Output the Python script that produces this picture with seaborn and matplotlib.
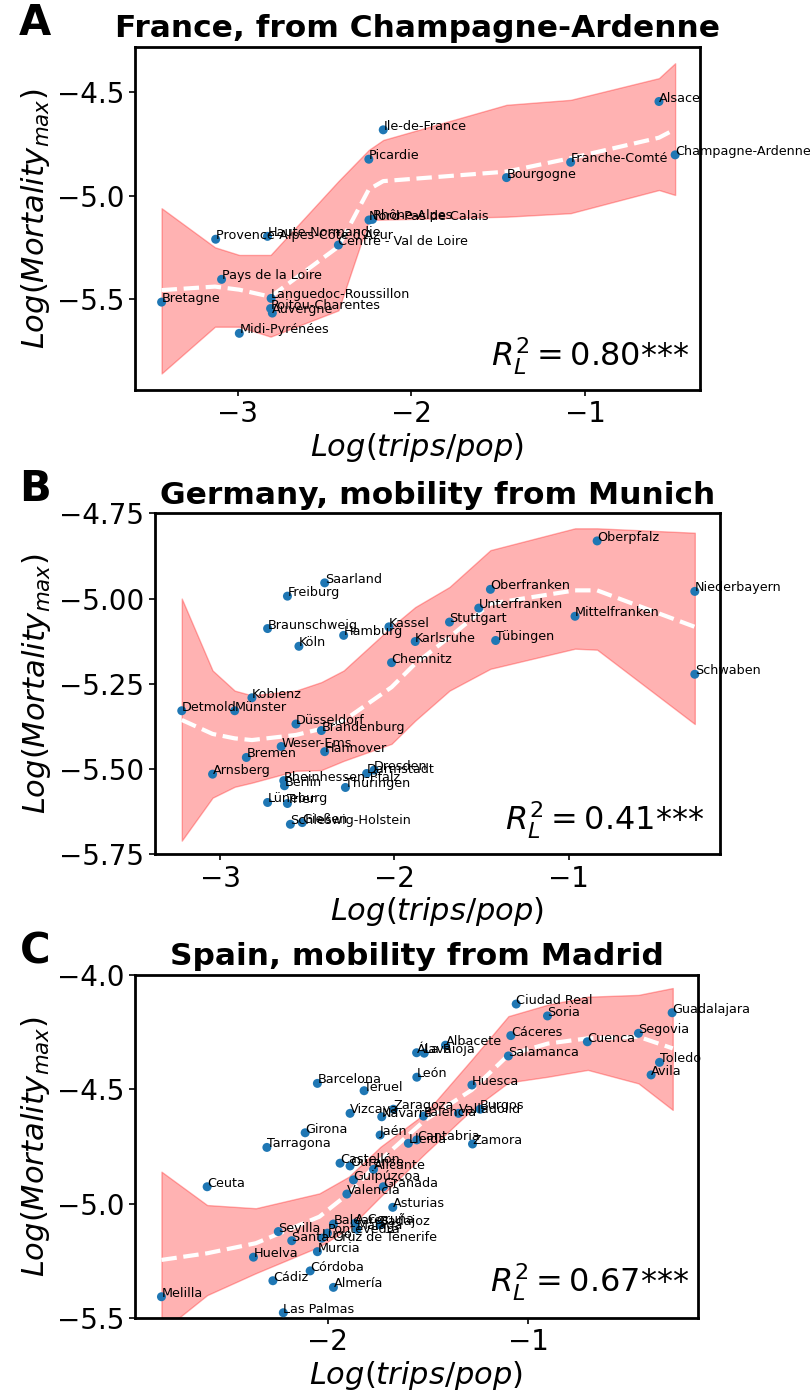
import numpy as np
import pandas as pd
import matplotlib
matplotlib.use("Agg")
import matplotlib.pyplot as plt
import seaborn as sns

# ---- France, from Champagne-Ardenne ----
fr_names = ["Alsace", "Champagne-Ardenne", "Ile-de-France", "Picardie", "Franche-Comté",
            "Bourgogne", "Nord-Pas de Calais", "Rhône-Alpes", "Provence-Alpes-Côte d'Azur",
            "Haute-Normandie", "Centre - Val de Loire", "Pays de la Loire", "Bretagne",
            "Languedoc-Roussillon", "Poitou-Charentes", "Auvergne", "Midi-Pyrénées"]
fr_x = [-0.576, -0.483, -2.162, -2.245, -1.084, -1.453, -2.244, -2.224, -3.126,
        -2.828, -2.420, -3.092, -3.437, -2.807, -2.81, -2.80, -2.99]
fr_y = [-4.545, -4.803, -4.682, -4.824, -4.839, -4.913, -5.118, -5.115, -5.211,
        -5.197, -5.239, -5.405, -5.515, -5.497, -5.546, -5.568, -5.666]
fr_fit_x = [-3.437, -3.13, -2.99, -2.81, -2.42, -2.245, -2.162, -1.453, -1.084, -0.576, -0.483]
fr_fit_y = [-5.457, -5.44, -5.455, -5.489, -5.247, -4.97, -4.93, -4.884, -4.819, -4.72, -4.679]
fr_hi = [-5.061, -5.250, -5.287, -5.287, -4.93, -4.779, -4.731, -4.561, -4.537, -4.432, -4.360]
fr_lo = [-5.860, -5.634, -5.634, -5.682, -5.555, -5.118, -5.116, -5.102, -5.085, -4.973, -4.997]

# ---- Germany, mobility from Munich ----
de_names = ["Oberpfalz", "Niederbayern", "Saarland", "Freiburg", "Oberfranken", "Unterfranken",
            "Stuttgart", "Kassel", "Hamburg", "Braunschweig", "Köln", "Karlsruhe", "Tübingen",
            "Mittelfranken", "Schwaben", "Chemnitz", "Koblenz", "Detmold", "Münster",
            "Düsseldorf", "Brandenburg", "Weser-Ems", "Hannover", "Bremen", "Arnsberg",
            "Darmstadt", "Dresden", "Rheinhessen-Pfalz", "Berlin", "Thüringen", "Lüneburg",
            "Trier", "Gießen", "Schleswig-Holstein"]
de_x = [-0.836, -0.275, -2.401, -2.615, -1.449, -1.516, -1.684, -2.032, -2.292, -2.729,
        -2.549, -1.881, -1.419, -0.963, -0.275, -2.017, -2.819, -3.222, -2.918, -2.566,
        -2.420, -2.651, -2.401, -2.851, -3.045, -2.160, -2.117, -2.636, -2.632, -2.282,
        -2.729, -2.615, -2.530, -2.598]
de_y = [-4.831, -4.979, -4.954, -4.993, -4.973, -5.028, -5.069, -5.083, -5.108, -5.088,
        -5.140, -5.126, -5.123, -5.052, -5.222, -5.188, -5.291, -5.329, -5.329, -5.368,
        -5.387, -5.434, -5.449, -5.466, -5.515, -5.513, -5.503, -5.534, -5.549, -5.554,
        -5.598, -5.601, -5.657, -5.662]
de_fit_x = [-3.222, -3.045, -2.918, -2.819, -2.566, -2.42, -2.292, -2.017, -1.881, -1.684,
            -1.449, -0.963, -0.836, -0.275]
de_fit_y = [-5.356, -5.397, -5.41, -5.415, -5.40, -5.382, -5.358, -5.260, -5.191, -5.113,
            -5.015, -4.976, -4.976, -5.083]
de_hi = [-5.0, -5.211, -5.27, -5.284, -5.27, -5.245, -5.211, -5.083, -5.025, -4.966,
         -4.858, -4.794, -4.794, -4.807]
de_lo = [-5.710, -5.584, -5.552, -5.54, -5.505, -5.503, -5.476, -5.426, -5.358, -5.270,
         -5.206, -5.147, -5.150, -5.368]

# ---- Spain, mobility from Madrid ----
es_names = ["Ciudad Real", "Soria", "Guadalajara", "Cáceres", "Segovia", "Cuenca", "Salamanca",
            "Toledo", "Avila", "Albacete", "Álava", "La Rioja", "Ceuta", "León", "Huesca",
            "Barcelona", "Teruel", "Vizcaya", "Zaragoza", "Navarra", "Palencia", "Valladolid",
            "Burgos", "Girona", "Tarragona", "Jaén", "Lleida", "Cantabria", "Zamora",
            "Castellón", "Ourense", "Alicante", "Guipúzcoa", "Granada", "Valencia", "Asturias",
            "Baleares", "A Coruña", "Badajoz", "Málaga", "Pontevedra", "Sevilla",
            "Santa Cruz de Tenerife", "Lugo", "Murcia", "Huelva", "Córdoba", "Cádiz",
            "Almería", "Las Palmas", "Melilla"]
es_x = [-1.060, -0.904, -0.282, -1.087, -0.450, -0.705, -1.099, -0.345, -0.387, -1.413,
        -1.557, -1.519, -2.602, -1.556, -1.281, -2.052, -1.819, -1.889, -1.673, -1.731,
        -1.523, -1.348, -1.240, -2.113, -2.304, -1.739, -1.598, -1.556, -1.278, -1.939,
        -1.889, -1.772, -1.872, -1.723, -1.905, -1.676, -1.972, -1.864, -1.739, -1.855,
        -2.002, -2.247, -2.180, -2.030, -2.052, -2.371, -2.088, -2.274, -1.972, -2.222,
        -2.830]
es_y = [-4.127, -4.179, -4.165, -4.265, -4.255, -4.292, -4.354, -4.382, -4.437, -4.307,
        -4.340, -4.342, -4.926, -4.447, -4.481, -4.474, -4.506, -4.605, -4.587, -4.620,
        -4.617, -4.605, -4.587, -4.690, -4.754, -4.700, -4.736, -4.721, -4.739, -4.823,
        -4.835, -4.850, -4.896, -4.926, -4.958, -5.016, -5.089, -5.086, -5.093, -5.112,
        -5.129, -5.122, -5.162, -5.151, -5.210, -5.234, -5.294, -5.337, -5.366, -5.477,
        -5.407]
es_fit_x = [-2.83, -2.602, -2.359, -2.042, -1.895, -1.737, -1.514, -1.282, -1.099, -0.903,
            -0.703, -0.45, -0.279]
es_fit_y = [-5.246, -5.217, -5.173, -5.057, -4.955, -4.809, -4.634, -4.503, -4.35, -4.30,
            -4.277, -4.27, -4.321]
es_hi = [-4.86, -5.006, -5.02, -4.955, -4.882, -4.751, -4.605, -4.37, -4.18, -4.13,
         -4.095, -4.087, -4.057]
es_lo = [-5.56, -5.40, -5.304, -5.188, -5.108, -4.969, -4.780, -4.590, -4.47, -4.445,
         -4.415, -4.474, -4.59]

panels = [
    dict(letter="A", title="France, from Champagne-Ardenne", names=fr_names, x=fr_x, y=fr_y,
         fx=fr_fit_x, fy=fr_fit_y, lo=fr_lo, hi=fr_hi, r2="0.80",
         rect=[135, 46.7, 700, 390], xlim=(-3.59, -0.34), ylim=(-5.94, -4.28),
         xticks=[-3, -2, -1], yticks=[-4.5, -5.0, -5.5], yfmt="{:.1f}", r2pos=(0.805, 0.10)),
    dict(letter="B", title="Germany, mobility from Munich", names=de_names, x=de_x, y=de_y,
         fx=de_fit_x, fy=de_fit_y, lo=de_lo, hi=de_hi, r2="0.41",
         rect=[154.6, 513.3, 720.4, 854.3], xlim=(-3.378, -0.128), ylim=(-5.75, -4.75),
         xticks=[-3, -2, -1], yticks=[-4.75, -5.0, -5.25, -5.5, -5.75], yfmt="{:.2f}",
         r2pos=(0.796, 0.10)),
    dict(letter="C", title="Spain, mobility from Madrid", names=es_names, x=es_x, y=es_y,
         fx=es_fit_x, fy=es_fit_y, lo=es_lo, hi=es_hi, r2="0.67",
         rect=[135, 975, 698, 1318], xlim=(-2.962, -0.153), ylim=(-5.5, -4.0),
         xticks=[-2, -1], yticks=[-4.0, -4.5, -5.0, -5.5], yfmt="{:.1f}", r2pos=(0.808, 0.105)),
]

sns.set_theme(style="ticks")
plt.rcParams["font.family"] = ["DejaVu Sans"]
plt.rcParams["mathtext.fontset"] = "dejavusans"
for k in ["text.color", "axes.labelcolor", "xtick.color", "ytick.color", "axes.edgecolor"]:
    plt.rcParams[k] = "black"

W, H = 810, 1395
fig = plt.figure(figsize=(W / 100, H / 100), dpi=100)

for p in panels:
    l, t, r, b = p["rect"]
    ax = fig.add_axes([l / W, 1 - b / H, (r - l) / W, (b - t) / H])
    ax.fill_between(p["fx"], p["lo"], p["hi"], color="red", alpha=0.3, lw=1)
    sns.lineplot(x=p["fx"], y=p["fy"], ax=ax, color="white", lw=3, linestyle="--",
                 estimator=None, sort=False)
    sns.scatterplot(x=p["x"], y=p["y"], ax=ax, color="#1f77b4", s=42, edgecolor="none",
                    zorder=3)
    for n, xx, yy in zip(p["names"], p["x"], p["y"]):
        ax.text(xx, yy, n, fontsize=9.2, color="black", zorder=4)
    ax.set_xlim(*p["xlim"])
    ax.set_ylim(*p["ylim"])
    ax.set_xticks(p["xticks"])
    ax.set_xticklabels(["\u2212%d" % abs(v) for v in p["xticks"]])
    ax.set_yticks(p["yticks"])
    ax.set_yticklabels([p["yfmt"].format(v).replace("-", "\u2212") for v in p["yticks"]])
    ax.tick_params(labelsize=20, length=4, width=1.2)
    for s in ax.spines.values():
        s.set_linewidth(2)
        s.set_color("black")
    ax.set_xlabel(r"$Log(trips/pop)$", fontsize=22, labelpad=2)
    ax.set_ylabel(r"$Log(Mortality_{max})$", fontsize=22, labelpad=4)
    ax.set_title(p["title"], fontsize=22.5, fontweight="bold", pad=7)
    ax.text(p["r2pos"][0], p["r2pos"][1], r"$R_L^2 = %s$***" % p["r2"], fontsize=23,
            transform=ax.transAxes, ha="center", va="center")
    fig.text(35 / W, 1 - (t - 24) / H, p["letter"], fontsize=30, fontweight="bold",
             ha="center", va="center")

fig.savefig("out.png", dpi=100)
